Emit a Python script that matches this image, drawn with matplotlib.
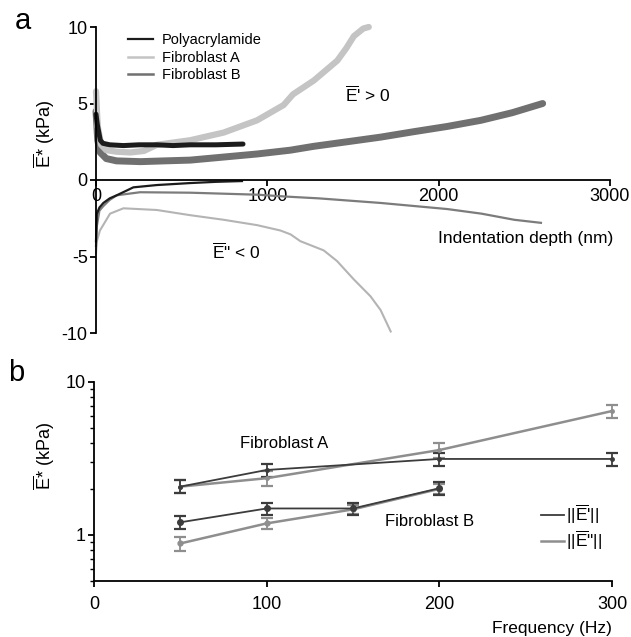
import matplotlib
matplotlib.use("Agg")
import matplotlib.pyplot as plt
from matplotlib.lines import Line2D
from matplotlib.ticker import LogLocator, FixedLocator, NullFormatter
import numpy as np

plt.rcParams['font.family'] = ['Liberation Sans', 'DejaVu Sans']
plt.rcParams['mathtext.fontset'] = 'custom'
plt.rcParams['mathtext.rm'] = 'Liberation Sans'
plt.rcParams['mathtext.it'] = 'Liberation Sans'
plt.rcParams['axes.unicode_minus'] = False

# panel a: E' (storage) curves vs indentation depth (nm)
poly_e1_depth = [0, 8, 25, 40, 80, 160, 250, 355, 450, 550, 700, 858]
poly_e1 = [4.3, 3.6, 2.6, 2.4, 2.3, 2.25, 2.3, 2.3, 2.25, 2.3, 2.3, 2.35]
fibA_e1_depth = [0, 10, 30, 60, 120, 200, 280, 355, 550, 745, 940, 1095,
                 1150, 1271, 1408, 1460, 1505, 1560, 1592]
fibA_e1 = [5.8, 3.5, 2.3, 1.95, 1.85, 1.8, 1.9, 2.3, 2.6, 3.1, 3.9, 4.9,
           5.6, 6.5, 7.8, 8.6, 9.4, 9.9, 10.0]
fibB_e1_depth = [0, 10, 25, 60, 120, 260, 400, 550, 745, 940, 1135, 1270,
                 1466, 1660, 1856, 2050, 2246, 2430, 2607]
fibB_e1 = [4.5, 2.6, 1.8, 1.4, 1.25, 1.2, 1.25, 1.3, 1.5, 1.7, 1.95, 2.2,
           2.5, 2.8, 3.16, 3.5, 3.9, 4.4, 5.0]

# panel a: E'' (loss) curves
poly_e2_depth = [0, 5, 20, 43, 80, 121, 218, 355, 550, 700, 852]
poly_e2 = [-4.0, -2.2, -1.8, -1.5, -1.2, -1.0, -0.48, -0.33, -0.2, -0.12, -0.07]
fibA_e2_depth = [0, 5, 23, 82, 160, 355, 550, 745, 940, 1076, 1135, 1193,
                 1329, 1407, 1505, 1602, 1661, 1720]
fibA_e2 = [-4.8, -4.0, -3.3, -2.2, -1.85, -1.96, -2.3, -2.6, -2.95, -3.3,
           -3.55, -4.0, -4.6, -5.3, -6.5, -7.6, -8.5, -9.9]
fibB_e2_depth = [0, 5, 20, 43, 80, 121, 257, 550, 940, 1135, 1300, 1661,
                 2051, 2250, 2441, 2597]
fibB_e2 = [-4.3, -3.0, -2.0, -1.7, -1.3, -1.0, -0.8, -0.83, -0.96, -1.1,
           -1.2, -1.5, -1.9, -2.2, -2.6, -2.8]

# panel b: moduli vs frequency (Hz)
freq_A = [50, 100, 200, 300]
fibA_e1_f = [2.07, 2.66, 3.14, 3.14]
fibA_e1_err = [0.2, 0.27, 0.3, 0.3]
fibA_e2_f = [2.07, 2.35, 3.59, 6.46]
fibA_e2_err = [0.2, 0.25, 0.4, 0.6]
freq_B = [50, 100, 150, 200]
fibB_e1_f = [1.21, 1.49, 1.49, 2.02]
fibB_e1_err = [0.12, 0.14, 0.13, 0.2]
fibB_e2_f = [0.88, 1.19, 1.47, 2.0]
fibB_e2_err = [0.09, 0.1, 0.1, 0.15]

c_poly = '#1c1c1c'
c_fibA = '#c4c4c4'
c_fibB = '#707070'
c_fibA_thin = '#b4b4b4'
c_fibB_thin = '#7c7c7c'
c_dark = '#3c3c3c'
c_light = '#8e8e8e'

W, H = 631, 637
fig = plt.figure(figsize=(W / 100, H / 100), dpi=100)

# ---------------- panel a ----------------
ax = fig.add_axes([96 / W, 1 - 333 / H, 514 / W, 306 / H])
ax.plot(fibB_e1_depth, fibB_e1, color=c_fibB, lw=5.0, solid_capstyle='round', clip_on=False)
ax.plot(fibA_e1_depth, fibA_e1, color=c_fibA, lw=4.5, solid_capstyle='round', clip_on=False)
ax.plot(poly_e1_depth, poly_e1, color=c_poly, lw=3.6, solid_capstyle='round', clip_on=False)
ax.plot(fibA_e2_depth, fibA_e2, color=c_fibA_thin, lw=1.5, clip_on=False)
ax.plot(fibB_e2_depth, fibB_e2, color=c_fibB_thin, lw=1.6, clip_on=False)
ax.plot(poly_e2_depth, poly_e2, color=c_poly, lw=1.6, clip_on=False)

ax.set_xlim(0, 3000)
ax.set_ylim(-10, 10)
for s in ['top', 'right']:
    ax.spines[s].set_visible(False)
ax.spines['left'].set_position(('data', 0))
ax.spines['bottom'].set_position(('data', 0))
ax.spines['left'].set_linewidth(1.3)
ax.spines['bottom'].set_linewidth(1.3)
ax.set_xticks([0, 1000, 2000, 3000])
ax.set_yticks([-10, -5, 0, 5, 10])
ax.tick_params(axis='both', labelsize=13, width=1.3, length=4, direction='out', pad=2)

ax.text(1585, 5.55, r"$\overline{\mathrm{E}}$' > 0", fontsize=12.5, ha='center', va='center')
ax.text(819, -4.7, r'$\overline{\mathrm{E}}$" < 0', fontsize=12.5, ha='center', va='center')
ax.text(3020, -3.8, 'Indentation depth (nm)', fontsize=12.5, ha='right', va='center')

handles_a = [Line2D([], [], color=c_poly, lw=1.6),
             Line2D([], [], color=c_fibA, lw=1.8),
             Line2D([], [], color=c_fibB, lw=1.8)]
fig.legend(handles_a, ['Polyacrylamide', 'Fibroblast A', 'Fibroblast B'],
           loc='upper left', bbox_to_anchor=(128 / W, 1 - 33 / H), frameon=False,
           borderpad=0, borderaxespad=0, handlelength=1.7, handletextpad=0.6,
           labelspacing=0.25, fontsize=10.5)

fig.text(44 / W, 1 - 134 / H, r'$\overline{\mathrm{E}}$* (kPa)', rotation=90,
         ha='center', va='center', fontsize=13)
fig.text(23 / W, 1 - 21 / H, 'a', fontsize=21, ha='center', va='center')

# ---------------- panel b ----------------
bx = fig.add_axes([94 / W, 1 - 581 / H, 518 / W, 199 / H])
ekw = dict(capsize=4, elinewidth=1.3, capthick=1.6, clip_on=False)
bx.errorbar(freq_A, fibA_e2_f, yerr=fibA_e2_err, color=c_light, lw=1.8,
            marker='o', ms=2.5, **ekw)
bx.errorbar(freq_A, fibA_e1_f, yerr=fibA_e1_err, color=c_dark, lw=1.3,
            marker='o', ms=2.5, **ekw)
bx.errorbar(freq_B, fibB_e2_f, yerr=fibB_e2_err, color=c_light, lw=1.8,
            marker='o', ms=3.5, **ekw)
bx.errorbar(freq_B, fibB_e1_f, yerr=fibB_e1_err, color=c_dark, lw=1.3,
            marker='o', ms=4, **ekw)

bx.set_yscale('log')
bx.set_xlim(0, 300)
bx.set_ylim(0.5, 10)
for s in ['top', 'right']:
    bx.spines[s].set_visible(False)
bx.spines['left'].set_linewidth(1.3)
bx.spines['bottom'].set_linewidth(1.3)
bx.set_xticks([0, 100, 200, 300])
bx.yaxis.set_major_locator(FixedLocator([1, 10]))
bx.set_yticklabels(['1', '10'])
bx.yaxis.set_minor_locator(LogLocator(base=10, subs=np.arange(2, 10)))
bx.yaxis.set_minor_formatter(NullFormatter())
bx.tick_params(axis='both', which='major', labelsize=13, width=1.3, length=4, pad=2)
bx.tick_params(axis='x', which='major', pad=6.5)
bx.tick_params(axis='y', which='minor', width=1.0, length=3)

bx.text(110, 3.99, 'Fibroblast A', fontsize=12, ha='center', va='center')
bx.text(194.6, 1.22, 'Fibroblast B', fontsize=12, ha='center', va='center')
bx.set_xlabel('Frequency (Hz)', fontsize=12.5, loc='right', labelpad=6)

handles_b = [Line2D([], [], color=c_dark, lw=1.3),
             Line2D([], [], color=c_light, lw=1.8)]
fig.legend(handles_b, [r"||$\overline{\mathrm{E}}$'||", r'||$\overline{\mathrm{E}}$"||'],
           loc='upper left', bbox_to_anchor=(541 / W, 1 - 503 / H), frameon=False,
           borderpad=0, borderaxespad=0, handlelength=1.3, handletextpad=0.15,
           labelspacing=0.12, fontsize=12.5)

fig.text(44 / W, 1 - 456 / H, r'$\overline{\mathrm{E}}$* (kPa)', rotation=90,
         ha='center', va='center', fontsize=13)
fig.text(16 / W, 1 - 373 / H, 'b', fontsize=21, ha='center', va='center')

fig.savefig('out.png', dpi=100)
